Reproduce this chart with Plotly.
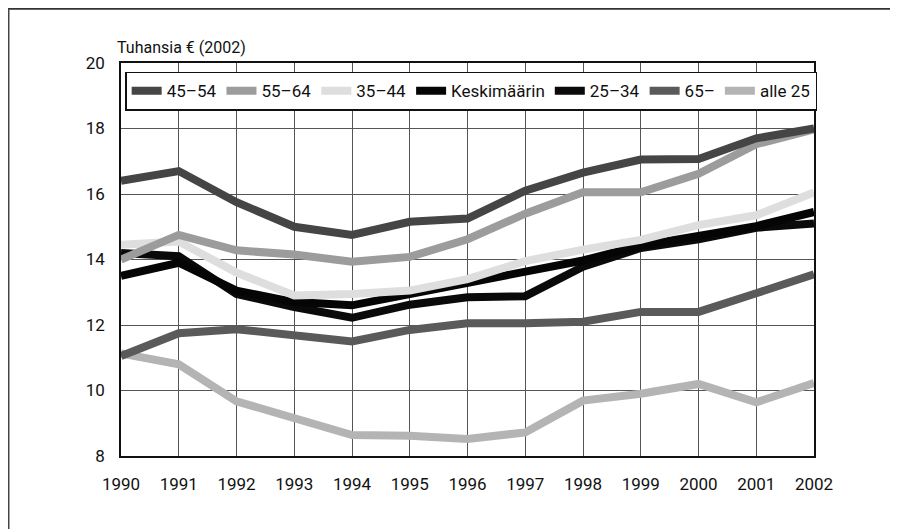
import plotly.graph_objects as go

# years on the x axis
years = list(range(1990, 2003))

# income by age group, thousands of euros (2002 prices)
v_45_54 = [16.4, 16.7, 15.75, 15.0, 14.75, 15.15, 15.25, 16.1, 16.65, 17.05, 17.07, 17.7, 18.0]
v_55_64 = [14.0, 14.75, 14.28, 14.15, 13.93, 14.08, 14.62, 15.4, 16.05, 16.05, 16.62, 17.52, 17.97]
v_35_44 = [14.45, 14.55, 13.6, 12.9, 12.95, 13.05, 13.4, 13.95, 14.3, 14.6, 15.05, 15.35, 16.05]
v_keskim = [13.5, 13.9, 13.05, 12.7, 12.6, 12.95, 13.3, 13.62, 13.97, 14.42, 14.72, 15.02, 15.45]
v_25_34 = [14.2, 14.1, 12.95, 12.55, 12.22, 12.62, 12.85, 12.88, 13.78, 14.35, 14.62, 14.97, 15.1]
v_65 = [11.05, 11.75, 11.87, 11.67, 11.5, 11.85, 12.05, 12.05, 12.1, 12.4, 12.4, 12.97, 13.55]
v_alle25 = [11.13, 10.8, 9.67, 9.18, 8.64, 8.62, 8.52, 8.72, 9.69, 9.9, 10.2, 9.64, 10.23]

names = ["45\u201354", "55\u201364", "35\u201344", "Keskim\u00e4\u00e4rin", "25\u201334", "65\u2013", "alle 25"]
series = [v_45_54, v_55_64, v_35_44, v_keskim, v_25_34, v_65, v_alle25]
colors = ["#454545", "#9c9c9c", "#dedede", "#050505", "#0a0a0a", "#5a5a5a", "#b4b4b4"]

FONT = "Roboto, Open Sans, sans-serif"

fig = go.Figure()

# drawn last-to-first so the first legend entries sit on top
for name, vals, col in reversed(list(zip(names, series, colors))):
    fig.add_trace(go.Scatter(
        x=years, y=vals, name=name, mode="lines",
        line=dict(color=col, width=8),
    ))

# page has an 8px body margin, so the margins are set 8px smaller
fig.update_layout(
    width=898, height=529,
    margin=dict(l=113, r=92, t=55, b=81),
    paper_bgcolor="white", plot_bgcolor="white",
    font=dict(family=FONT, size=17, color="#111"),
    showlegend=True,
    legend=dict(
        orientation="h", traceorder="reversed",
        x=0.006, y=0.978, xanchor="left", yanchor="top",
        bgcolor="white", bordercolor="#111", borderwidth=1.5,
        font=dict(family=FONT, size=17, color="#111"),
        itemwidth=30, tracegroupgap=0,
    ),
    annotations=[dict(
        text="Tuhansia \u20ac (2002)", xref="paper", yref="paper",
        x=0, y=1, xanchor="left", yanchor="bottom", xshift=-6, yshift=4,
        showarrow=False, font=dict(family=FONT, size=16, color="#111"),
    )],
    shapes=[
        # thin frame line along the top and left of the page
        dict(type="line", xref="paper", yref="paper", x0=-0.2, x1=1.2, y0=1.138, y1=1.138,
             line=dict(color="#333", width=2)),
        dict(type="line", xref="paper", yref="paper", x0=-0.162, x1=-0.162, y0=-0.3, y1=1.138,
             line=dict(color="#444", width=1.5)),
    ],
)

fig.update_xaxes(
    range=[1990, 2002], tickmode="array", tickvals=years,
    showgrid=True, gridcolor="#555", gridwidth=1,
    showline=True, linecolor="#111", linewidth=1.5, mirror=True,
    ticks="", ticklabelstandoff=12, zeroline=False,
    tickfont=dict(family=FONT, size=17, color="#111"),
)
fig.update_yaxes(
    range=[8, 20], tickmode="array", tickvals=[8, 10, 12, 14, 16, 18, 20],
    showgrid=True, gridcolor="#555", gridwidth=1,
    showline=True, linecolor="#111", linewidth=1.5, mirror=True,
    ticks="", ticklabelstandoff=11, zeroline=False,
    tickfont=dict(family=FONT, size=17, color="#111"),
)

fig.write_html("out.html")
